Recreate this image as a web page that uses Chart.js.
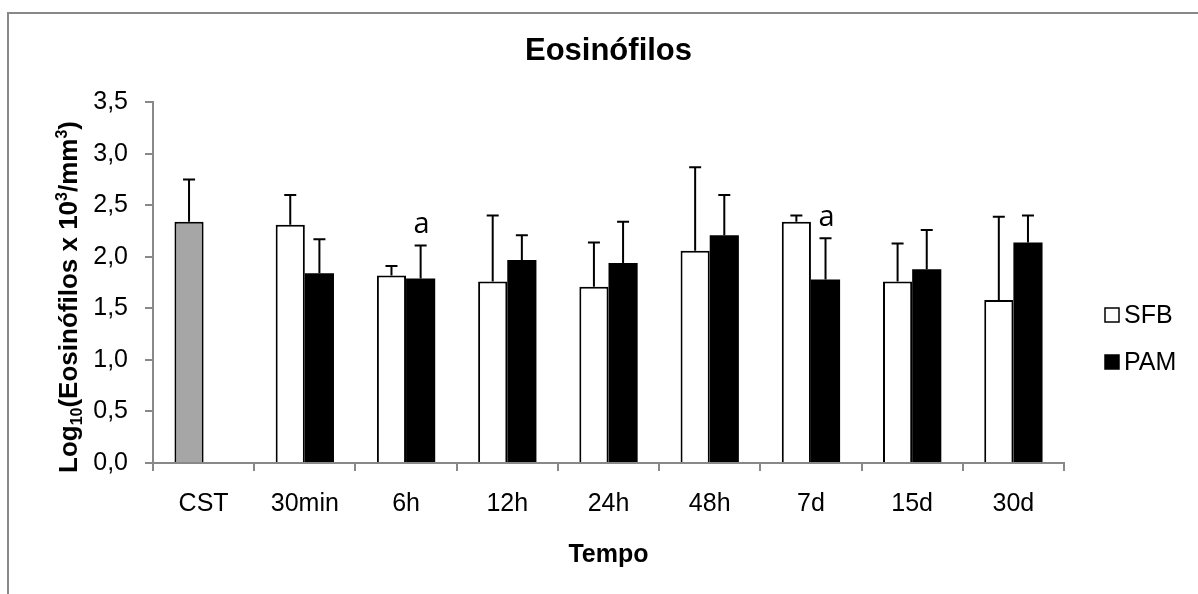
<!DOCTYPE html>
<html>
<head>
<meta charset="utf-8">
<script src="https://cdn.jsdelivr.net/npm/chart.js@4/dist/chart.umd.min.js"></script>
<style>
  html, body { margin: 0; padding: 0; background: #fff; }
  #wrap { width: 1198px; height: 594px; }
</style>
</head>
<body>
<div id="wrap"><canvas id="chart"></canvas></div>
<script>
  // Data
  const categories = ["CST", "30min", "6h", "12h", "24h", "48h", "7d", "15d", "30d"];
  const sfbValues = [2.34, 2.31, 1.82, 1.76, 1.71, 2.06, 2.34, 1.76, 1.58];
  const sfbErrors = [0.41, 0.29, 0.09, 0.64, 0.43, 0.81, 0.06, 0.37, 0.81];
  const pamValues = [null, 1.84, 1.79, 1.97, 1.94, 2.21, 1.78, 1.88, 2.14];
  const pamErrors = [null, 0.33, 0.32, 0.24, 0.40, 0.39, 0.40, 0.38, 0.26];
  const pamMarks = ["", "", "a", "", "", "", "a", "", ""];
  const yMin = 0;
  const yMax = 3.5;
  const yStep = 0.5;

  const FONT = "'Liberation Sans', Arial, sans-serif";
  const AXIS_GREY = "#888888";

  // CST is drawn in the SFB slot but grey
  const sfbColors = categories.map((c, i) => (i === 0 ? "#a6a6a6" : "#ffffff"));

  // Error bars (upper only) and the "a" marks
  const errorBars = {
    id: "errorBars",
    afterDatasetsDraw(chart) {
      const ctx = chart.ctx;
      const yScale = chart.scales.y;
      ctx.save();
      ctx.strokeStyle = "#000";
      ctx.lineWidth = 2;
      chart.data.datasets.forEach((ds, i) => {
        const meta = chart.getDatasetMeta(i);
        meta.data.forEach((bar, j) => {
          const v = ds.data[j];
          const e = ds.errors[j];
          if (v == null || e == null) return;
          const top = yScale.getPixelForValue(v + e);
          ctx.beginPath();
          ctx.moveTo(bar.x, bar.y);
          ctx.lineTo(bar.x, top);
          ctx.moveTo(bar.x - 6, top);
          ctx.lineTo(bar.x + 6, top);
          ctx.stroke();
          if (ds.marks && ds.marks[j]) {
            ctx.fillStyle = "#000";
            ctx.font = "29px 'Open Sans', sans-serif";
            ctx.textAlign = "center";
            ctx.textBaseline = "alphabetic";
            ctx.fillText(ds.marks[j], bar.x + 1, top - 12);
          }
        });
      });
      ctx.restore();
    }
  };

  // Y title with real sub/superscripts, legend on the right, outer frame
  const extras = {
    id: "extras",
    afterDraw(chart) {
      const ctx = chart.ctx;
      const area = chart.chartArea;
      ctx.save();

      // frame (top and left edges only are visible in the figure)
      ctx.strokeStyle = AXIS_GREY;
      ctx.lineWidth = 2;
      ctx.beginPath();
      ctx.moveTo(8, 594);
      ctx.lineTo(8, 13);
      ctx.lineTo(1198, 13);
      ctx.stroke();

      // y axis title
      const parts = [
        ["Log", 0, 26],
        ["10", 5, 16],
        ["(Eosinófilos x 10", 0, 26],
        ["3", -10, 16],
        ["/mm", 0, 26],
        ["3", -10, 16],
        [")", 0, 26]
      ];
      let total = 0;
      parts.forEach(p => {
        ctx.font = "bold " + p[2] + "px " + FONT;
        total += ctx.measureText(p[0]).width;
      });
      ctx.translate(77, 297);
      ctx.rotate(-Math.PI / 2);
      ctx.fillStyle = "#000";
      ctx.textAlign = "left";
      ctx.textBaseline = "alphabetic";
      let x = -total / 2;
      parts.forEach(p => {
        ctx.font = "bold " + p[2] + "px " + FONT;
        ctx.fillText(p[0], x, p[1]);
        x += ctx.measureText(p[0]).width;
      });
      ctx.setTransform(1, 0, 0, 1, 0, 0);

      // legend
      const lx = area.right + 41;
      const rows = [315, 362];
      ctx.font = "25px " + FONT;
      ctx.textBaseline = "middle";
      chart.data.datasets.forEach((ds, i) => {
        const cy = rows[i];
        ctx.fillStyle = ds.legendFill;
        ctx.fillRect(lx, cy - 7, 14, 14);
        ctx.strokeStyle = "#000";
        ctx.lineWidth = 1.5;
        ctx.strokeRect(lx, cy - 7, 14, 14);
        ctx.fillStyle = "#000";
        ctx.fillText(ds.label, lx + 19, cy + 1);
      });
      ctx.restore();
    }
  };

  new Chart(document.getElementById("chart"), {
    type: "bar",
    data: {
      labels: categories,
      datasets: [
        {
          label: "SFB",
          data: sfbValues,
          errors: sfbErrors,
          backgroundColor: sfbColors,
          borderColor: "#000",
          borderWidth: 2,
          legendFill: "#ffffff",
          categoryPercentage: 0.576,
          barPercentage: 1
        },
        {
          label: "PAM",
          data: pamValues,
          errors: pamErrors,
          marks: pamMarks,
          backgroundColor: "#000",
          borderColor: "#000",
          borderWidth: 0,
          legendFill: "#000",
          categoryPercentage: 0.576,
          barPercentage: 1
        }
      ]
    },
    options: {
      responsive: true,
      maintainAspectRatio: false,
      animation: false,
      layout: { padding: { left: 0, right: 134, top: 0, bottom: 0 } },
      plugins: {
        legend: { display: false },
        tooltip: { enabled: false },
        title: {
          display: true,
          text: "Eosinófilos",
          fullSize: false,
          color: "#000",
          font: { family: FONT, size: 31, weight: "bold" },
          padding: { top: 33, bottom: 32 }
        }
      },
      scales: {
        x: {
          afterFit(scale) { scale.height = 131; },
          border: { color: AXIS_GREY, width: 2 },
          grid: { drawOnChartArea: false, drawTicks: true, tickLength: 8, color: AXIS_GREY, lineWidth: 2 },
          ticks: { color: "#000", font: { family: FONT, size: 25 }, padding: 18, maxRotation: 0 },
          title: {
            display: true,
            text: "Tempo",
            color: "#000",
            font: { family: FONT, size: 25, weight: "bold" },
            padding: { top: 0, bottom: 24 }
          }
        },
        y: {
          min: yMin,
          max: yMax,
          afterFit(scale) { scale.width = 153; },
          border: { color: AXIS_GREY, width: 2 },
          grid: { drawOnChartArea: false, drawTicks: true, tickLength: 8, color: AXIS_GREY, lineWidth: 2 },
          ticks: {
            stepSize: yStep,
            color: "#000",
            font: { family: FONT, size: 25 },
            padding: 17,
            callback: v => v.toFixed(1).replace(".", ",")
          }
        }
      }
    },
    plugins: [errorBars, extras]
  });
</script>
</body>
</html>
